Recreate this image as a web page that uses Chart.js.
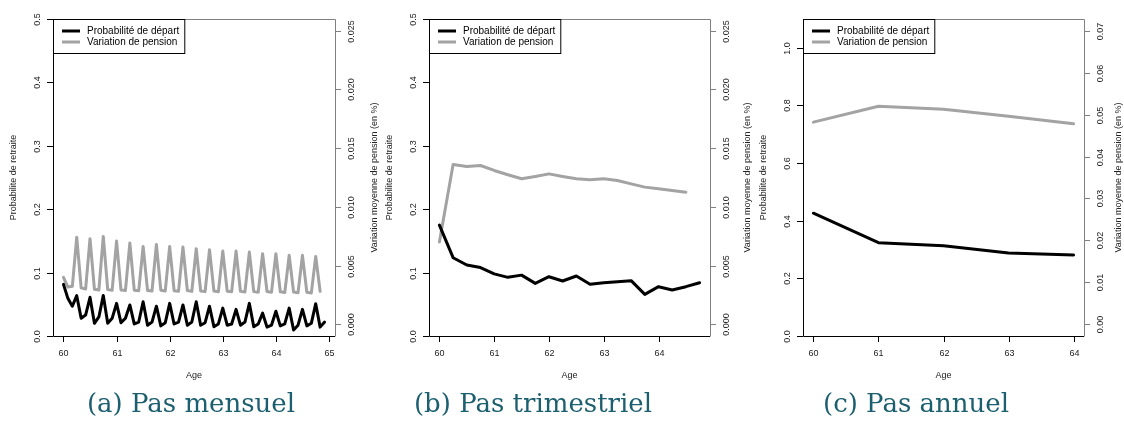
<!DOCTYPE html>
<html>
<head>
<meta charset="utf-8">
<script src="https://cdn.jsdelivr.net/npm/chart.js@4"></script>
<style>
  body { margin: 0; background: #fff; }
  #wrap { position: relative; width: 1124px; height: 429px; overflow: hidden; }
  canvas { position: absolute; top: 0; }
  .cap { position: absolute; top: 388px; width: 400px; text-align: center;
         font-family: "DejaVu Serif", serif; font-size: 26px; color: #1c5f6f; white-space: nowrap; }
</style>
</head>
<body>
<div id="wrap">
  <canvas id="pa" width="400" height="400" style="left:0px"></canvas>
  <canvas id="pb" width="400" height="400" style="left:375px"></canvas>
  <canvas id="pc" width="375" height="400" style="left:749px"></canvas>
  <div class="cap" style="left:-9px">(a) Pas mensuel</div>
  <div class="cap" style="left:333px">(b) Pas trimestriel</div>
  <div class="cap" style="left:716px">(c) Pas annuel</div>
</div>
<script>
const legendLabels = ["Probabilité de départ", "Variation de pension"];
const titleX = "Age";
const titleLeft = "Probabilite de retraite";
const titleRight = "Variation moyenne de pension (en %)";

// (a) pas mensuel
const agesMonthly = [60,60.083,60.167,60.25,60.333,60.417,60.5,60.583,60.667,60.75,60.833,60.917,
  61,61.083,61.167,61.25,61.333,61.417,61.5,61.583,61.667,61.75,61.833,61.917,
  62,62.083,62.167,62.25,62.333,62.417,62.5,62.583,62.667,62.75,62.833,62.917,
  63,63.083,63.167,63.25,63.333,63.417,63.5,63.583,63.667,63.75,63.833,63.917,
  64,64.083,64.167,64.25,64.333,64.417,64.5,64.583,64.667,64.75,64.833,64.917];
const probMonthly = [0.0815,0.0594,0.047,0.0636,0.0279,0.033,0.061,0.020,0.030,0.064,0.020,0.028,
  0.0515,0.021,0.028,0.049,0.019,0.022,0.054,0.017,0.022,0.047,0.016,0.021,
  0.0515,0.019,0.022,0.049,0.017,0.022,0.054,0.017,0.021,0.047,0.0147,0.019,
  0.044,0.017,0.019,0.042,0.017,0.022,0.0515,0.0147,0.019,0.036,0.014,0.017,
  0.039,0.016,0.019,0.044,0.0095,0.017,0.042,0.016,0.020,0.051,0.014,0.022];
const pensionMonthly = [0.00400,0.00317,0.00323,0.00742,0.00310,0.00300,0.00729,0.00298,0.00292,0.00748,0.00295,0.00290,
  0.00709,0.00292,0.00287,0.00692,0.00290,0.00285,0.00663,0.00288,0.00283,0.00680,0.00290,0.00284,
  0.00663,0.00286,0.00281,0.00658,0.00287,0.00280,0.00643,0.00284,0.00278,0.00635,0.00283,0.00277,
  0.00623,0.00282,0.00276,0.00623,0.00280,0.00274,0.00615,0.00278,0.00272,0.00601,0.00279,0.00272,
  0.00601,0.00276,0.00270,0.00587,0.00274,0.00268,0.00587,0.00272,0.00266,0.00578,0.00280];

// (b) pas trimestriel
const agesQuarterly = [60,60.25,60.5,60.75,61,61.25,61.5,61.75,62,62.25,62.5,62.75,63,63.25,63.5,63.75,64,64.25,64.5,64.75];
const probQuarterly = [0.175,0.1235,0.112,0.108,0.098,0.0925,0.096,0.083,0.0935,0.0868,0.0946,0.0815,0.084,0.0857,0.0873,0.0657,0.0778,0.0726,0.0778,0.084];
const pensionQuarterly = [0.0070,0.01361,0.01344,0.01352,0.0131,0.01273,0.01239,0.01259,0.01281,0.01259,0.01239,0.0123,0.01239,0.01224,0.01196,0.01168,0.01154,0.0114,0.01125];

// (c) pas annuel
const agesYearly = [60,61,62,63,64];
const probYearly = [0.426,0.324,0.313,0.288,0.281];
const pensionYearly = [0.0482,0.0520,0.0513,0.0496,0.0478];

// ticks
const xTicksA = [60,61,62,63,64,65];
const xTicksBC = [60,61,62,63,64];
const leftTicksAB = [0,0.1,0.2,0.3,0.4,0.5];
const rightTicksAB = [0,0.005,0.01,0.015,0.02,0.025];
const leftTicksC = [0,0.2,0.4,0.6,0.8,1.0];
const rightTicksC = [0,0.01,0.02,0.03,0.04,0.05,0.06,0.07];

const grey = "#a3a3a3";
const axisGrey = "#808080";
const font = "9px 'Liberation Sans', Arial, sans-serif";

const rStyle = {
  id: "rStyle",
  afterDatasetsDraw(chart, args, o) {
    const { ctx, chartArea: a, scales } = chart;
    const tl = 6;
    ctx.save();
    ctx.lineWidth = 1;
    // box: left/bottom black, top/right grey
    ctx.strokeStyle = "#000";
    ctx.beginPath();
    ctx.moveTo(a.left + 0.5, a.top); ctx.lineTo(a.left + 0.5, a.bottom + 0.5); ctx.lineTo(a.right, a.bottom + 0.5);
    ctx.stroke();
    ctx.strokeStyle = axisGrey;
    ctx.beginPath();
    ctx.moveTo(a.left, a.top + 0.5); ctx.lineTo(a.right + 0.5, a.top + 0.5); ctx.lineTo(a.right + 0.5, a.bottom + 0.5);
    ctx.stroke();

    ctx.font = font;
    ctx.fillStyle = "#222";
    ctx.textAlign = "center";
    ctx.textBaseline = "middle";

    // x axis
    ctx.strokeStyle = "#000";
    scales.x.ticks.forEach(t => {
      const px = Math.round(scales.x.getPixelForValue(t.value)) + 0.5;
      ctx.beginPath(); ctx.moveTo(px, a.bottom); ctx.lineTo(px, a.bottom + tl); ctx.stroke();
      ctx.fillText(String(t.value), px, a.bottom + 18);
    });
    ctx.fillText(titleX, (a.left + a.right) / 2, a.bottom + 40);

    // left axis
    scales.y.ticks.forEach(t => {
      const py = Math.round(scales.y.getPixelForValue(t.value)) + 0.5;
      ctx.strokeStyle = "#000";
      ctx.beginPath(); ctx.moveTo(a.left - tl, py); ctx.lineTo(a.left, py); ctx.stroke();
      ctx.save(); ctx.translate(a.left - 15, py); ctx.rotate(-Math.PI / 2);
      ctx.fillText(t.value.toFixed(o.leftDec), 0, 0); ctx.restore();
    });
    ctx.save(); ctx.translate(a.left - 39, (a.top + a.bottom) / 2); ctx.rotate(-Math.PI / 2);
    ctx.fillText(titleLeft, 0, 0); ctx.restore();

    // right axis
    scales.y1.ticks.forEach(t => {
      const py = Math.round(scales.y1.getPixelForValue(t.value)) + 0.5;
      ctx.strokeStyle = axisGrey;
      ctx.beginPath(); ctx.moveTo(a.right, py); ctx.lineTo(a.right + tl, py); ctx.stroke();
      ctx.save(); ctx.translate(a.right + 17, py); ctx.rotate(-Math.PI / 2);
      ctx.fillText(t.value.toFixed(o.rightDec), 0, 0); ctx.restore();
    });
    ctx.save(); ctx.translate(a.right + o.rightTitle, (a.top + a.bottom) / 2); ctx.rotate(-Math.PI / 2);
    ctx.fillText(titleRight, 0, 0); ctx.restore();

    // legend, top-left inside the box
    ctx.font = "10px 'Liberation Sans', Arial, sans-serif";
    const w = 34 + Math.max(...chart.data.datasets.map(d => ctx.measureText(d.label).width)) + 5;
    ctx.strokeStyle = "#000";
    ctx.fillStyle = "#fff";
    ctx.fillRect(a.left, a.top, w, 34);
    ctx.strokeRect(a.left + 0.5, a.top + 0.5, w, 34);
    ctx.textAlign = "left";
    chart.data.datasets.forEach((d, i) => {
      const y = a.top + 12 + i * 11;
      ctx.strokeStyle = d.borderColor; ctx.lineWidth = 3;
      ctx.beginPath(); ctx.moveTo(a.left + 9, y); ctx.lineTo(a.left + 27, y); ctx.stroke();
      ctx.fillStyle = "#000";
      ctx.fillText(d.label, a.left + 34, y);
    });
    ctx.restore();
  }
};

function setTicks(list) {
  return s => { s.ticks = list.map(v => ({ value: v })); };
}

function makePanel(id, p) {
  new Chart(document.getElementById(id), {
    type: "line",
    data: {
      datasets: [
        { label: legendLabels[0], data: p.ages.map((x, i) => ({ x, y: p.prob[i] })).filter(d => d.y !== undefined),
          yAxisID: "y", borderColor: "#000", borderWidth: 3, pointRadius: 0, tension: 0,
          borderCapStyle: "round", borderJoinStyle: "round" },
        { label: legendLabels[1], data: p.pension.map((y, i) => ({ x: p.ages[i], y })),
          yAxisID: "y1", borderColor: grey, borderWidth: 3, pointRadius: 0, tension: 0,
          borderCapStyle: "round", borderJoinStyle: "round" }
      ]
    },
    options: {
      responsive: false,
      animation: false,
      events: [],
      layout: { padding: p.pad },
      plugins: {
        legend: { display: false },
        tooltip: { enabled: false },
        rStyle: { leftDec: p.leftDec, rightDec: p.rightDec, rightTitle: p.rightTitle }
      },
      scales: {
        x: { type: "linear", display: false, min: p.xRange[0], max: p.xRange[1], afterBuildTicks: setTicks(p.xTicks) },
        y: { type: "linear", display: false, min: p.yRange[0], max: p.yRange[1], afterBuildTicks: setTicks(p.yTicks) },
        y1: { type: "linear", display: false, position: "right", min: p.y1Range[0], max: p.y1Range[1], afterBuildTicks: setTicks(p.y1Ticks) }
      }
    },
    plugins: [rStyle]
  });
}

makePanel("pa", {
  ages: agesMonthly, prob: probMonthly, pension: pensionMonthly,
  xRange: [59.803, 65.113], xTicks: xTicksA,
  yRange: [0, 0.5], yTicks: leftTicksAB, leftDec: 1,
  y1Range: [-0.001, 0.026], y1Ticks: rightTicksAB, rightDec: 3,
  pad: { left: 53, right: 65, top: 19, bottom: 64 }, rightTitle: 40
});
makePanel("pb", {
  ages: agesQuarterly, prob: probQuarterly, pension: pensionQuarterly,
  xRange: [59.81, 64.94], xTicks: xTicksBC,
  yRange: [0, 0.5], yTicks: leftTicksAB, leftDec: 1,
  y1Range: [-0.001, 0.026], y1Ticks: rightTicksAB, rightDec: 3,
  pad: { left: 54, right: 65, top: 19, bottom: 64 }, rightTitle: 38
});
makePanel("pc", {
  ages: agesYearly, prob: probYearly, pension: pensionYearly,
  xRange: [59.84, 64.16], xTicks: xTicksBC,
  yRange: [0, 1.1], yTicks: leftTicksC, leftDec: 1,
  y1Range: [-0.0028, 0.0728], y1Ticks: rightTicksC, rightDec: 2,
  pad: { left: 54, right: 40, top: 19, bottom: 64 }, rightTitle: 35
});
</script>
</body>
</html>
